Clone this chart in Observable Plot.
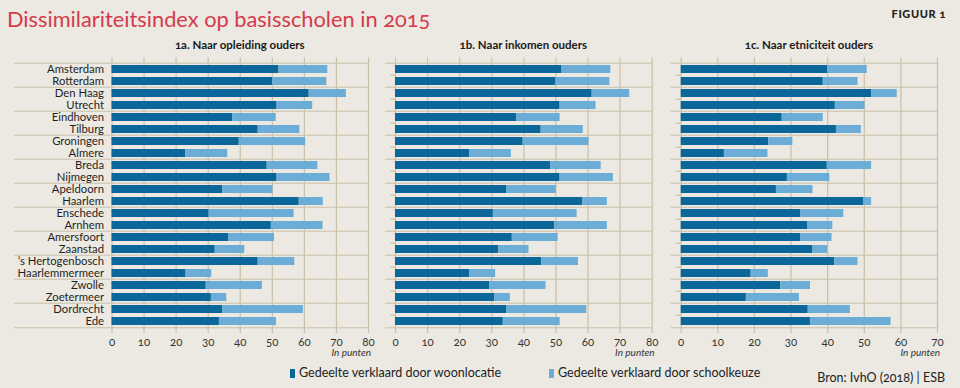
<!DOCTYPE html>
<html><head><meta charset="utf-8">
<script src="https://cdn.jsdelivr.net/npm/d3@7"></script>
<script src="https://cdn.jsdelivr.net/npm/@observablehq/plot@0.6"></script>
<style>
body{margin:0;background:#ebe9e2;font-family:Lato,"Open Sans",sans-serif;font-variant-numeric:oldstyle-nums;}
#wrap{position:relative;width:960px;height:388px;overflow:hidden;background:#ebe9e2;}
.abs{position:absolute;white-space:nowrap;}
.ptitle{font-weight:bold;font-size:11.5px;color:#1a1a1a;transform:translateX(-50%);}
.unit{font-style:italic;font-size:10px;color:#333;transform:translateX(-100%);}
.leg{font-size:12.5px;color:#222;}
.sw{display:inline-block;width:5px;height:9px;margin-right:4px;vertical-align:-1px;}
svg text{font-variant-numeric:oldstyle-nums;}
</style></head><body><div id="wrap"></div>
<script>
const cities = ["Amsterdam","Rotterdam","Den Haag","Utrecht","Eindhoven","Tilburg","Groningen","Almere","Breda","Nijmegen","Apeldoorn","Haarlem","Enschede","Arnhem","Amersfoort","Zaanstad","’s Hertogenbosch","Haarlemmermeer","Zwolle","Zoetermeer","Dordrecht","Ede"];
const parts = ["Gedeelte verklaard door woonlocatie","Gedeelte verklaard door schoolkeuze"];
const panelTitles = ["1a. Naar opleiding ouders","1b. Naar inkomen ouders","1c. Naar etniciteit ouders"];

// 1a. opleiding
const opleidingWoon   = [52.1,50.1,61.5,51.5,37.6,45.6,39.7,23.0,48.4,51.5,34.6,58.4,30.3,49.7,36.5,32.2,45.6,23.1,29.4,31.0,34.5,33.5];
const opleidingSchool = [15.2,16.9,11.6,11.1,13.6,13.0,20.7,13.1,15.8,16.5,15.6, 7.5,26.5,16.1,14.2, 9.2,11.4, 8.0,17.5, 4.8,25.2,17.8];
// 1b. inkomen
const inkomenWoon     = [51.9,50.0,61.3,51.3,37.7,45.4,39.8,23.2,48.3,51.3,34.6,58.4,30.5,49.7,36.4,32.2,45.6,23.2,29.4,31.0,34.6,33.6];
const inkomenSchool   = [15.2,16.8,11.7,11.2,13.6,13.1,20.5,12.9,15.8,16.6,15.5, 7.6,26.1,16.3,14.3, 9.4,11.4, 8.0,17.5, 4.8,25.0,17.7];
// 1c. etniciteit
const etniciteitWoon  = [40.0,38.8,52.0,42.1,27.6,42.4,23.9,11.8,39.9,29.0,26.0,49.9,32.7,34.5,32.7,36.0,41.9,19.1,27.2,17.8,34.7,35.3];
const etniciteitSchool= [10.8, 9.5, 7.0, 8.1,11.2, 6.8, 6.6,11.9,12.1,11.6,10.0, 2.1,11.7, 6.9, 8.5, 4.0, 6.4, 4.7, 8.1,14.5,11.5,22.0];
const ticks80 = [0,10,20,30,40,50,60,70,80];
const ticks70 = [0,10,20,30,40,50,60,70];

const C_DARK = "#0b679a", C_LIGHT = "#6badd6", C_GRID = "#cbbfa8", BG = "#ebe9e2";
const wrap = document.getElementById("wrap");

function div(cls, text, css){
  const d = document.createElement("div");
  d.className = "abs " + cls; d.textContent = text;
  Object.assign(d.style, css); wrap.appendChild(d); return d;
}

const TOP = 57.4, BOTTOM = 332.9, H = 360;

function panel(cfg){
  const {left, width, frameLeft, plotLeft, plotRight, xmax, woon, school, labels, ticks, title, minorTicks} = cfg;
  const k = (plotRight - plotLeft) / xmax;
  const xmin = -(plotLeft - frameLeft) / k;
  const step = (BOTTOM - TOP) / cities.length;
  const rows = cities.flatMap((c, i) => [
    {city: c, part: parts[0], value: woon[i]},
    {city: c, part: parts[1], value: school[i]}
  ]);
  const evenRows = cities.filter((c, i) => i % 2 === 0);
  const oddRows = cities.filter((c, i) => i % 2 === 1);
  const marks = [
    Plot.ruleX(ticks, {x: d => d, stroke: C_GRID, strokeWidth: 1.2}),
    Plot.ruleY(evenRows, {y: d => d, dy: -step / 2, stroke: C_GRID, strokeWidth: 1.2}),
    Plot.ruleY([cities[cities.length - 1]], {y: d => d, dy: step / 2, stroke: C_GRID, strokeWidth: 1.2}),
    Plot.barX(rows, Plot.stackX({x: "value", y: "city", fill: "part"}))
  ];
  if (minorTicks) marks.push(Plot.ruleY(oddRows, {y: d => d, dy: -step / 2, x1: -5 / k, x2: 0, stroke: C_GRID, strokeWidth: 1.2}));
  if (labels) marks.push(Plot.text(cities, {x: 0, y: d => d, text: d => d, textAnchor: "end", dx: -8, fontSize: 11.3, fill: "#1f1f1f"}));
  const chart = Plot.plot({
    width, height: H,
    marginLeft: frameLeft - left,
    marginRight: width - (plotRight - left),
    marginTop: TOP, marginBottom: H - BOTTOM,
    x: {domain: [xmin, xmax], ticks: ticks, tickSize: 0, tickPadding: 4, label: null, tickFormat: d => String(d)},
    y: {domain: cities, paddingInner: 0.34, paddingOuter: 0.17, axis: null},
    color: {domain: parts, range: [C_DARK, C_LIGHT]},
    style: {background: "transparent", fontFamily: "Lato, sans-serif", fontSize: "11.5px", color: "#333", overflow: "visible"},
    marks
  });
  chart.style.position = "absolute";
  chart.style.left = left + "px";
  chart.style.top = "0px";
  wrap.appendChild(chart);
  div("ptitle", title, {left: ((plotLeft + plotRight) / 2) + "px", top: "38px"});
  div("unit", "In punten", {left: (plotRight + 3) + "px", top: "346px"});
}

div("", "Dissimilariteitsindex op basisscholen in 2015", {left: "7px", top: "5px", fontSize: "21.8px", color: "#d63a4b", lineHeight: "28px"});
div("", "FIGUUR 1", {right: "14px", top: "7px", fontSize: "11px", fontWeight: "900", color: "#222", letterSpacing: "0.6px"});

panel({left: 0, width: 380, frameLeft: 14, plotLeft: 111.5, plotRight: 368, xmax: 80, woon: opleidingWoon, school: opleidingSchool, labels: true, ticks: ticks80, title: panelTitles[0]});
panel({left: 375, width: 290, frameLeft: 385, plotLeft: 395, plotRight: 651.7, xmax: 80, woon: inkomenWoon, school: inkomenSchool, labels: false, ticks: ticks80, title: panelTitles[1], minorTicks: true});
panel({left: 660, width: 290, frameLeft: 670.7, plotLeft: 680.7, plotRight: 937, xmax: 70, woon: etniciteitWoon, school: etniciteitSchool, labels: false, ticks: ticks70, title: panelTitles[2], minorTicks: true});

const l1 = div("leg", "", {left: "290px", top: "365px"});
l1.innerHTML = `<span class="sw" style="background:${C_DARK}"></span>${parts[0]}`;
const l2 = div("leg", "", {left: "549px", top: "365px"});
l2.innerHTML = `<span class="sw" style="background:${C_LIGHT}"></span>${parts[1]}`;
div("leg", "Bron: IvhO (2018) | ESB", {right: "15px", top: "370px", fontSize: "12.5px"});
</script></body></html>
